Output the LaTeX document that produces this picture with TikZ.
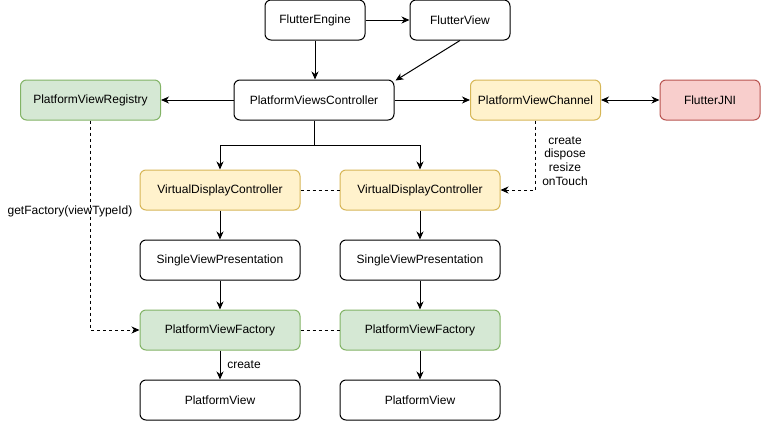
\documentclass[tikz,border=0pt]{standalone}
\usepackage{fontspec}
\setmainfont{Liberation Sans}
\usetikzlibrary{arrows.meta}
\definecolor{gfill}{HTML}{D5E8D4}\definecolor{gline}{HTML}{82B366}
\definecolor{yfill}{HTML}{FFF2CC}\definecolor{yline}{HTML}{D6B656}
\definecolor{rfill}{HTML}{F8CECC}\definecolor{rline}{HTML}{B85450}
\begin{document}
\begin{tikzpicture}[x=1pt,y=-1pt,
  font=\fontsize{12}{13.7}\selectfont, line width=1pt,
  box/.style={draw, rounded corners=6pt, minimum height=40pt, inner sep=0pt, fill=white},
  greenbox/.style={box, fill=gfill, draw=gline},
  yellowbox/.style={box, fill=yfill, draw=yline},
  redbox/.style={box, fill=rfill, draw=rline},
  arr/.style={-{Stealth[length=8pt,width=7pt,inset=2.5pt]}},
  barr/.style={{Stealth[length=8pt,width=7pt,inset=2.5pt]}-{Stealth[length=8pt,width=7pt,inset=2.5pt]}},
  dsh/.style={dash pattern=on 3pt off 3pt},
  lbl/.style={inner sep=0pt, align=center}]
\useasboundingbox (0,0) rectangle (761,421);
\node[box, minimum width=100pt] (FE) at (315,20) {FlutterEngine};
\node[box, minimum width=100pt] (FV) at (460,20) {FlutterView};
\node[box, minimum width=160pt] (PVC) at (314,100) {PlatformViewsController};
\node[greenbox, minimum width=140pt] (PVR) at (90.5,100) {PlatformViewRegistry};
\node[yellowbox, minimum width=130pt] (PVCh) at (535.5,100) {PlatformViewChannel};
\node[redbox, minimum width=100pt] (JNI) at (710,100) {FlutterJNI};
\node[yellowbox, minimum width=160pt] (VDC1) at (220,190) {VirtualDisplayController};
\node[yellowbox, minimum width=160pt] (VDC2) at (420,190) {VirtualDisplayController};
\node[box, minimum width=160pt] (SVP1) at (220,260) {SingleViewPresentation};
\node[box, minimum width=160pt] (SVP2) at (420,260) {SingleViewPresentation};
\node[greenbox, minimum width=160pt] (PVF1) at (220,330) {PlatformViewFactory};
\node[greenbox, minimum width=160pt] (PVF2) at (420,330) {PlatformViewFactory};
\node[box, minimum width=160pt] (PV1) at (220,400) {PlatformView};
\node[box, minimum width=160pt] (PV2) at (420,400) {PlatformView};
\coordinate (split) at (314,145);
\draw[arr] (FE) -- (FV);
\draw[arr] (FE) -- (FE |- PVC.north);
\draw[arr] (FV.south) -- ([xshift=1pt,yshift=-1pt]PVC.north east);
\draw[arr] (PVC) -- (PVR);
\draw[arr] (PVC) -- (PVCh);
\draw[barr] (PVCh) -- (JNI);
\draw (PVC.south) -- (split);
\draw[arr] (split) -| (VDC1.north);
\draw[arr] (split) -| (VDC2.north);
\draw[dsh] (VDC1) -- (VDC2);
\draw[dsh] (PVF1) -- (PVF2);
\draw[arr] (VDC1) -- (SVP1);
\draw[arr] (VDC2) -- (SVP2);
\draw[arr] (SVP1) -- (PVF1);
\draw[arr] (SVP2) -- (PVF2);
\draw[arr] (PVF1) -- (PV1);
\draw[arr] (PVF2) -- (PV2);
\draw[arr, dsh] (PVR.south) |- (PVF1.west);
\draw[arr, dsh] (PVCh.south) |- (VDC2.east);
\node[lbl] (gf) at (70,211) {getFactory(viewTypeId)};
\node[lbl] (ops) at (565,161) {create\\dispose\\resize\\onTouch};
\node[lbl] (cr) at (244,365) {create};
\end{tikzpicture}
\end{document}
